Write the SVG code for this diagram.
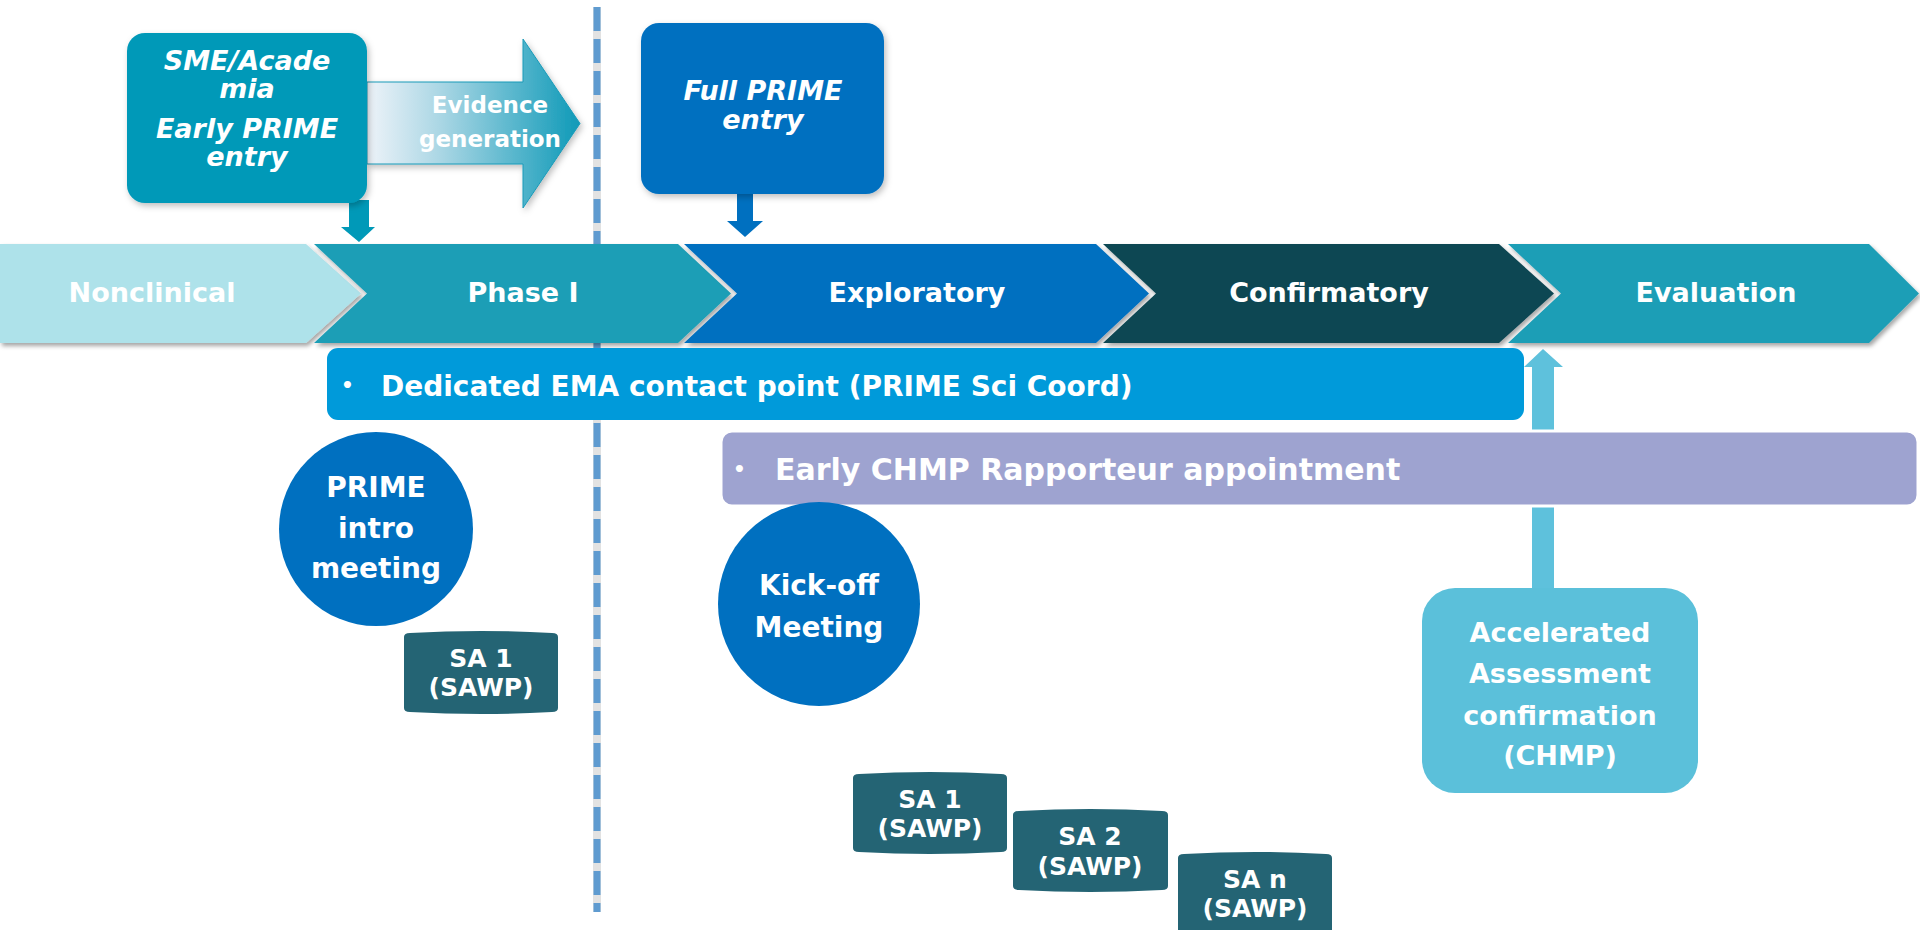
<svg xmlns="http://www.w3.org/2000/svg" width="1920" height="930" viewBox="0 0 1920 930">
<defs>
<filter id="sh" x="-5%" y="-10%" width="115%" height="130%">
<feDropShadow dx="2" dy="3" stdDeviation="2" flood-color="#000" flood-opacity="0.35"/>
</filter>
<filter id="shs" x="-10%" y="-10%" width="125%" height="130%">
<feDropShadow dx="2" dy="3" stdDeviation="3" flood-color="#000" flood-opacity="0.25"/>
</filter>
<linearGradient id="evg" x1="367" y1="0" x2="580" y2="0" gradientUnits="userSpaceOnUse">
<stop offset="0" stop-color="#eef3f9"/>
<stop offset="0.35" stop-color="#a9d6e4"/>
<stop offset="1" stop-color="#0f9ab8"/>
</linearGradient>
</defs>
<style>
text{font-family:"DejaVu Sans","Liberation Sans",sans-serif;font-weight:bold;fill:#fff;text-anchor:middle}
.ph{font-size:27px}
.it{font-style:italic;font-size:27px}
.sa{font-size:25px}
.sab{fill:#246474}
.lft{text-anchor:start}
</style>
<rect width="1920" height="930" fill="#fff"/>

<g id="divider">
<line x1="597" y1="7" x2="597" y2="912" stroke="#e2e2e2" stroke-width="8"/>
<line x1="597" y1="7" x2="597" y2="912" stroke="#5f9bd0" stroke-width="7" stroke-dasharray="24 8"/>
</g>

<g id="phases">
<g id="nonclinical"><polygon points="0,244 306,244 361,293.5 306,343 0,343" fill="#aee2ea" filter="url(#sh)"/><text class="ph" x="152" y="302">Nonclinical</text></g>
<g id="phase1"><polygon points="314,244 678,244 731,293.5 678,343 314,343 367,293.5" fill="#1e9eb6" filter="url(#sh)"/><text class="ph" x="523" y="302">Phase I</text></g>
<g id="exploratory"><polygon points="684,244 1096,244 1149,293.5 1096,343 684,343 737,293.5" fill="#0070c0" filter="url(#sh)"/><text class="ph" x="917" y="302">Exploratory</text></g>
<g id="confirmatory"><polygon points="1103,244 1499,244 1554,293.5 1499,343 1103,343 1156,293.5" fill="#0f4753" filter="url(#sh)"/><text class="ph" x="1329" y="302">Confirmatory</text></g>
<g id="evaluation"><polygon points="1508,244 1869,244 1919,293.5 1869,343 1508,343 1561,293.5" fill="#1e9eb6" filter="url(#sh)"/><text class="ph" x="1716" y="302">Evaluation</text></g>
</g>

<g id="evidence">
<polygon points="367,82 523,82 523,39 580,123.5 523,208 523,164 367,164" fill="url(#evg)" stroke="#1a9ab8" stroke-width="1" filter="url(#shs)"/>
<text x="490" y="113" style="font-size:23px">Evidence</text>
<text x="490" y="147" style="font-size:23px">generation</text>
</g>

<g id="connectors">
<polygon id="arr-sme" points="349,200 369,200 369,227 375,227 359,242 341,227 349,227" fill="#0099b8"/>
<polygon id="arr-full" points="737,190 753,190 753,221 763,221 745,237 727,221 737,221" fill="#0070c0"/>
<polygon id="arr-acc" points="1532,588 1532,367 1524,367 1543,349 1563,367 1554,367 1554,588" fill="#5ec1dc"/>
</g>

<g id="sme">
<rect x="127" y="33" width="240" height="170" rx="18" fill="#0099b8" filter="url(#shs)"/>
<text class="it" x="247" y="70">SME/Acade</text>
<text class="it" x="247" y="98">mia</text>
<text class="it" x="247" y="138">Early PRIME</text>
<text class="it" x="247" y="166">entry</text>
</g>

<g id="fullprime">
<rect x="641" y="23" width="243" height="171" rx="18" fill="#0070c0" filter="url(#shs)"/>
<text class="it" x="763" y="100">Full PRIME</text>
<text class="it" x="763" y="129">entry</text>
</g>

<g id="contact">
<rect x="327" y="348" width="1197" height="72" rx="11" fill="#009ada"/>
<text class="lft" x="341" y="392" style="font-size:20px">•</text>
<text class="lft" x="381" y="396" style="font-size:28px">Dedicated EMA contact point (PRIME Sci Coord)</text>
</g>

<g id="rapporteur">
<rect x="721" y="431" width="1197" height="75" rx="11" fill="#9ea3d0" stroke="#fff" stroke-width="3"/>
<text class="lft" x="733" y="476" style="font-size:20px">•</text>
<text class="lft" x="775" y="480" style="font-size:30px">Early CHMP Rapporteur appointment</text>
</g>

<g id="intro">
<ellipse cx="376" cy="529" rx="97" ry="97" fill="#0070c0"/>
<text x="376" y="497" style="font-size:28px">PRIME</text>
<text x="376" y="538" style="font-size:28px">intro</text>
<text x="376" y="578" style="font-size:28px">meeting</text>
</g>

<g id="kickoff">
<ellipse cx="819" cy="604" rx="101" ry="102" fill="#0070c0"/>
<text x="819" y="595" style="font-size:28px">Kick-off</text>
<text x="819" y="637" style="font-size:28px">Meeting</text>
</g>

<g id="sa1-early">
<path class="sab" d="M404,637 Q404,633 410,633 Q481,629 552,633 Q558,633 558,637 L558,708 Q558,712 552,712 Q481,716 410,712 Q404,712 404,708 Z"/>
<text class="sa" x="481" y="667">SA 1</text>
<text class="sa" x="481" y="696">(SAWP)</text>
</g>

<g id="sa1">
<path class="sab" d="M853,778 Q853,774 859,774 Q930,770 1001,774 Q1007,774 1007,778 L1007,848 Q1007,852 1001,852 Q930,856 859,852 Q853,852 853,848 Z"/>
<text class="sa" x="930" y="808">SA 1</text>
<text class="sa" x="930" y="837">(SAWP)</text>
</g>

<g id="sa2">
<path class="sab" d="M1013,815 Q1013,811 1019,811 Q1090,807 1162,811 Q1168,811 1168,815 L1168,886 Q1168,890 1162,890 Q1090,894 1019,890 Q1013,890 1013,886 Z"/>
<text class="sa" x="1090" y="845">SA 2</text>
<text class="sa" x="1090" y="875">(SAWP)</text>
</g>

<g id="san">
<path class="sab" d="M1178,858 Q1178,854 1184,854 Q1255,850 1326,854 Q1332,854 1332,858 L1332,935 L1178,935 Z"/>
<text class="sa" x="1255" y="888">SA n</text>
<text class="sa" x="1255" y="917">(SAWP)</text>
</g>

<g id="accelerated">
<rect x="1422" y="588" width="276" height="205" rx="33" fill="#5bc0da"/>
<text x="1560" y="642" style="font-size:27px">Accelerated</text>
<text x="1560" y="683" style="font-size:27px">Assessment</text>
<text x="1560" y="725" style="font-size:27px">confirmation</text>
<text x="1560" y="765" style="font-size:27px">(CHMP)</text>
</g>
</svg>
